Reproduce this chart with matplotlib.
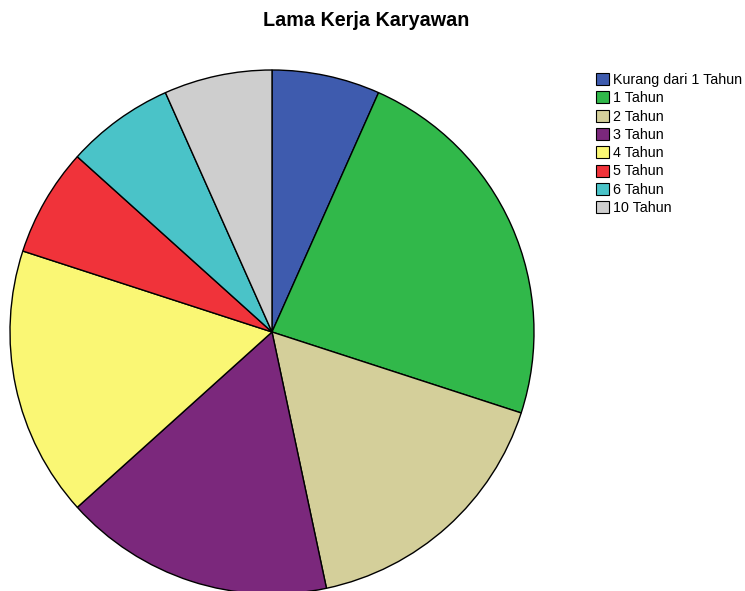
import matplotlib
matplotlib.use("Agg")
import matplotlib.pyplot as plt

plt.rcParams['font.family'] = ['Liberation Sans', 'DejaVu Sans']

categories = ["Kurang dari 1 Tahun", "1 Tahun", "2 Tahun", "3 Tahun",
              "4 Tahun", "5 Tahun", "6 Tahun", "10 Tahun"]
counts = [2, 7, 5, 5, 5, 2, 2, 2]
colors = ["#3E5BAE", "#31B84A", "#D4CF9A", "#7B287C",
          "#FAF774", "#F0333A", "#4AC3C8", "#CECECE"]

W, H = 745, 591
fig = plt.figure(figsize=(W / 100, H / 100), dpi=100)
cx, cy, r = 272, 332, 262
ax = fig.add_axes([(cx - r) / W, (H - cy - r) / H, 2 * r / W, 2 * r / H])
wedges, _ = ax.pie(counts, colors=colors, startangle=90, counterclock=False,
                   radius=1, wedgeprops=dict(edgecolor="black", linewidth=1.0))
for w in wedges:
    w.set_clip_on(False)
ax.set_xlim(-1, 1)
ax.set_ylim(-1, 1)
ax.set_aspect("equal")
ax.axis("off")

fig.text(366 / W, 1 - 21 / H, "Lama Kerja Karyawan", ha="center", va="center",
         fontsize=14.2, fontweight="bold")

leg = fig.legend(wedges, categories, loc="upper left",
                 bbox_to_anchor=(586 / W, 1 - 63 / H), frameon=False,
                 fontsize=10.3, handlelength=0.92, handleheight=0.92,
                 handletextpad=0.25, labelspacing=0.3, borderpad=0.2)
for p in leg.get_patches():
    p.set_linewidth(0.8)

fig.savefig("out.png", dpi=100)
